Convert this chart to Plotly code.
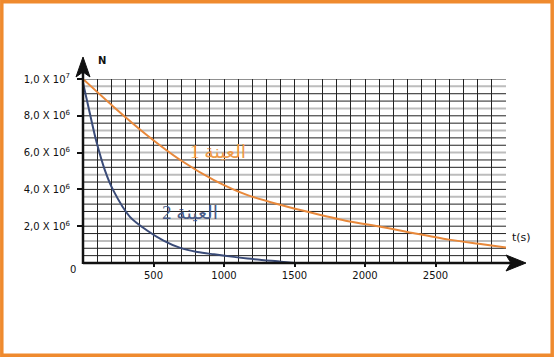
import plotly.graph_objects as go

# ---- data ----
t_sample1 = [0, 214, 452, 690, 929, 1167, 1405, 1643, 1881, 2119, 2357, 2595, 2833, 3000]
n_sample1 = [1.0e7, 8.51e6, 6.96e6, 5.6e6, 4.51e6, 3.69e6, 3.15e6, 2.69e6, 2.27e6, 1.96e6, 1.6e6, 1.27e6, 1.02e6, 0.84e6]

t_sample2 = [0, 48, 95, 155, 214, 333, 452, 571, 690, 810, 929, 1167, 1405, 1500]
n_sample2 = [9.8e6, 8.15e6, 6.6e6, 5.05e6, 3.96e6, 2.51e6, 1.78e6, 1.22e6, 0.82e6, 0.6e6, 0.47e6, 0.24e6, 0.07e6, 0.0]

x_tickvals = [500, 1000, 1500, 2000, 2500]
x_ticktext = ["500", "1000", "1500", "2000", "2500"]
y_tickvals = [2e6, 4e6, 6e6, 8e6, 1e7]
y_ticktext = ["2,0 X 10<sup>6</sup>", "4,0 X 10<sup>6</sup>", "6,0 X 10<sup>6</sup>",
              "8,0 X 10<sup>6</sup>", "1,0 X 10<sup>7</sup>"]
grid_step_y = 4e5
grid_levels_y = [k * grid_step_y for k in range(1, 26)]

label1 = "العينة 1"
label2 = "العينة 2"

# ---- layout geometry (pixels) ----
W, H = 554, 357
L, R, T, B = 83, 506, 79, 263


def px(x):
    return (x - L) / (R - L)


def py(y):
    return (B - y) / (B - T)


ORANGE = "#E8883A"
BLUE = "#3A4B78"

fig = go.Figure()
fig.add_trace(go.Scatter(x=t_sample1, y=n_sample1, mode="lines",
                         line=dict(color=ORANGE, width=2, shape="spline", smoothing=0.8),
                         hoverinfo="skip", showlegend=False))
fig.add_trace(go.Scatter(x=t_sample2, y=n_sample2, mode="lines",
                         line=dict(color=BLUE, width=2, shape="spline", smoothing=0.8),
                         hoverinfo="skip", showlegend=False))

shapes = []
for k, g in enumerate(grid_levels_y, start=1):
    gray = (k % 3 == 0)
    shapes.append(dict(type="line", xref="x", yref="y", x0=0, x1=3000, y0=g, y1=g,
                       line=dict(color="#BDBDBD" if gray else "#222222", width=2 if gray else 1),
                       layer="below"))
# axes lines
shapes.append(dict(type="line", xref="paper", yref="paper", x0=px(L), x1=px(516), y0=py(B), y1=py(B),
                   line=dict(color="#111111", width=2.5)))
shapes.append(dict(type="line", xref="paper", yref="paper", x0=px(L), x1=px(L), y0=py(B + 1), y1=py(66),
                   line=dict(color="#111111", width=2.5)))


def path(pts):
    return "M " + " L ".join(f"{px(a):.5f},{py(b):.5f}" for a, b in pts) + " Z"


shapes.append(dict(type="path", xref="paper", yref="paper",
                   path=path([(L, 57), (76, 77), (L, 72), (90, 77)]),
                   fillcolor="#111111", line=dict(color="#111111", width=1)))
shapes.append(dict(type="path", xref="paper", yref="paper",
                   path=path([(526, B), (506, 255), (511, B), (506, 271)]),
                   fillcolor="#111111", line=dict(color="#111111", width=1)))
# orange frame
shapes.append(dict(type="rect", xref="paper", yref="paper",
                   x0=px(1.8), x1=px(W - 1.8), y0=py(H - 1.8), y1=py(1.8),
                   line=dict(color="#EF8A2E", width=3.5)))

annotations = [
    dict(xref="paper", yref="paper", x=px(96), y=py(53), text="<b>N</b>", showarrow=False,
         font=dict(family="DejaVu Sans", size=10, color="#111111")),
    dict(xref="paper", yref="paper", x=px(533), y=py(246), text="t(s)", showarrow=False,
         font=dict(family="DejaVu Sans", size=11, color="#111111")),
    dict(xref="paper", yref="paper", x=px(73), y=py(269), text="0", showarrow=False,
         xanchor="center", yanchor="middle",
         font=dict(family="DejaVu Sans", size=10, color="#111111")),
    dict(xref="paper", yref="paper", x=px(188), y=py(151), text=label1, showarrow=False,
         font=dict(family="Liberation Serif, DejaVu Sans", size=19, color="#EE9A4A")),
    dict(xref="paper", yref="paper", x=px(160), y=py(225), text=label2, showarrow=False,
         font=dict(family="Liberation Serif, DejaVu Sans", size=19, color="#4A5C88")),
]

fig.update_layout(
    width=W, height=H,
    margin=dict(l=L, r=W - R, t=T, b=H - B, pad=0),
    paper_bgcolor="white", plot_bgcolor="rgba(0,0,0,0)",
    shapes=shapes, annotations=annotations,
    xaxis=dict(range=[0, 3000], tickmode="array", tickvals=x_tickvals, ticktext=x_ticktext,
               showgrid=True, gridcolor="#222222", gridwidth=1,
               minor=dict(dtick=100, tick0=0, showgrid=True, gridcolor="#222222", gridwidth=1),
               ticks="outside", ticklen=3, tickcolor="#111111", tickwidth=1.5,
               zeroline=False, showline=False,
               tickfont=dict(family="DejaVu Sans", size=10, color="#111111")),
    yaxis=dict(range=[0, 1e7], tickmode="array", tickvals=y_tickvals, ticktext=y_ticktext,
               showgrid=False,
               ticks="outside", ticklen=5, tickcolor="#111111", tickwidth=1.5,
               ticklabelstandoff=5,
               zeroline=False, showline=False,
               tickfont=dict(family="DejaVu Sans", size=10, color="#111111")),
)

fig.write_html("out.html", config={"displayModeBar": False},
               post_script="document.body.style.margin='0';document.body.style.padding='0';")
